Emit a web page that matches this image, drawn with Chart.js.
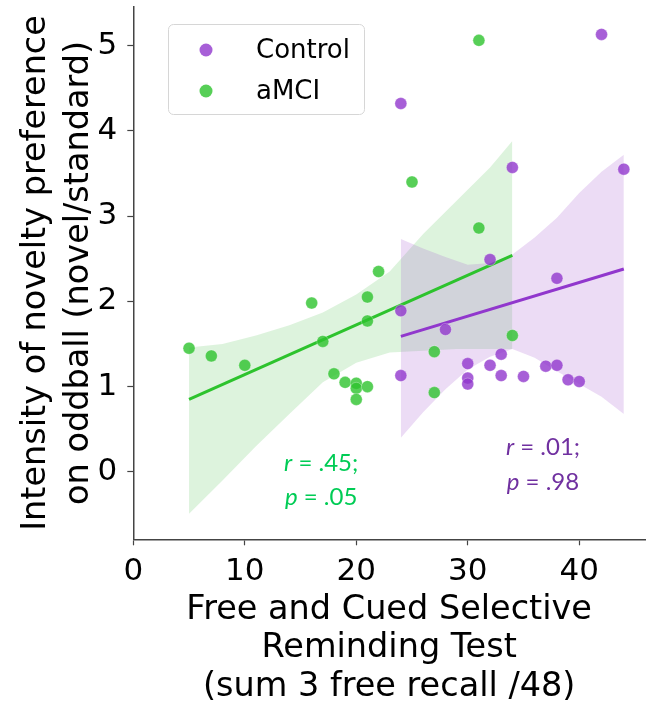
<!DOCTYPE html>
<html>
<head>
<meta charset="utf-8">
<script src="https://cdn.jsdelivr.net/npm/chart.js@4.4.0/dist/chart.umd.min.js"></script>
<style>
  html, body { margin: 0; padding: 0; background: #fff; }
  #wrap { width: 659px; height: 711px; position: relative; }
</style>
</head>
<body>
<div id="wrap"><canvas id="myChart"></canvas></div>
<script>
// Control group (FCSRT free recall vs novelty preference)
const controlX = [24, 24, 24, 28, 30, 30, 30, 32, 32, 33, 33, 34, 35, 37, 38, 38, 39, 40, 42, 44];
const controlY = [4.32, 1.89, 1.13, 1.67, 1.27, 1.10, 1.03, 2.49, 1.25, 1.38, 1.13, 3.57, 1.12, 1.24, 2.27, 1.25, 1.08, 1.06, 5.13, 3.55];

// aMCI group
const amciX = [5, 7, 10, 16, 17, 18, 19, 20, 20, 20, 21, 21, 21, 22, 25, 27, 27, 31, 31, 34];
const amciY = [1.45, 1.36, 1.25, 1.98, 1.53, 1.15, 1.05, 1.04, 0.98, 0.85, 1.00, 2.05, 1.77, 2.35, 3.40, 1.41, 0.93, 5.06, 2.86, 1.60];

// regression lines (ends)
const controlFitX = [24, 44];
const controlFitY = [1.59, 2.38];
const amciFitX = [5, 34];
const amciFitY = [0.85, 2.54];

// confidence bands
const controlBandX = [24, 26, 28, 30, 32, 34, 36, 38, 40, 42, 44];
const controlBandHi = [2.73, 2.62, 2.52, 2.43, 2.45, 2.55, 2.75, 2.98, 3.27, 3.52, 3.72];
const controlBandLo = [0.40, 0.70, 0.97, 1.20, 1.35, 1.44, 1.34, 1.18, 1.03, 0.88, 0.68];
const amciBandX = [5, 8, 11, 14, 17, 20, 23, 26, 29, 32, 34];
const amciBandHi = [1.46, 1.50, 1.60, 1.72, 1.87, 2.08, 2.35, 2.79, 3.18, 3.57, 3.88];
const amciBandLo = [-0.49, -0.10, 0.30, 0.68, 1.05, 1.28, 1.40, 1.42, 1.44, 1.44, 1.44];

// stats
const amciStat = ['.45;', '.05'];
const controlStat = ['.01;', '.98'];

const xTicks = [0, 10, 20, 30, 40];
const yTicks = [0, 1, 2, 3, 4, 5];

const purple = 'rgb(145,55,205)';
const green = 'rgb(45,195,45)';

const toPoints = (xs, ys) => xs.map((x, i) => ({ x: x, y: ys[i] }));

const ctx = document.getElementById('myChart');

// legend drawn inside the plot, matplotlib style
const boxLegend = {
  id: 'boxLegend',
  afterDraw(chart) {
    const c = chart.ctx;
    c.save();
    c.beginPath();
    c.roundRect(168.5, 24.5, 196, 90, 5);
    c.fillStyle = 'rgba(255,255,255,0.8)';
    c.fill();
    c.strokeStyle = '#d6d6d6';
    c.lineWidth = 1;
    c.stroke();
    const items = [chart.data.datasets[0], chart.data.datasets[1]];
    items.forEach((ds, i) => {
      const y = 50 + i * 41;
      c.beginPath();
      c.arc(206, y, 6.5, 0, Math.PI * 2);
      c.fillStyle = ds.backgroundColor;
      c.fill();
      c.fillStyle = '#000';
      c.font = '26px "DejaVu Sans"';
      c.textBaseline = 'middle';
      c.textAlign = 'left';
      c.fillText(ds.label, 256, y + 1);
    });
    c.restore();
  }
};

// r / p annotations
const statText = {
  id: 'statText',
  afterDraw(chart, args, opts) {
    const c = chart.ctx;
    const xs = chart.scales.x, ys = chart.scales.y;
    const fIt = 'italic 24px Lato';
    const fUp = '24px Lato';
    c.save();
    c.textBaseline = 'middle';
    c.textAlign = 'left';
    opts.items.forEach((it) => {
      const cx = xs.getPixelForValue(it.x);
      [['r', it.vals[0]], ['p', it.vals[1]]].forEach((pair, k) => {
        const py = ys.getPixelForValue(it.y[k]);
        const rest = ' = ' + pair[1];
        c.font = fIt;
        const w1 = c.measureText(pair[0]).width;
        c.font = fUp;
        const w2 = c.measureText(rest).width;
        const x0 = cx - (w1 + w2) / 2;
        c.fillStyle = it.color;
        c.font = fIt;
        c.fillText(pair[0], x0, py);
        c.font = fUp;
        c.fillText(rest, x0 + w1, py);
      });
    });
    c.restore();
  }
};

const tickGrid = {
  display: true,
  drawOnChartArea: false,
  drawTicks: true,
  tickLength: 6,
  tickColor: '#444',
  tickWidth: 1.2
};

const myChart = new Chart(ctx, {
  type: 'scatter',
  data: {
    datasets: [
      {
        label: 'Control',
        data: toPoints(controlX, controlY),
        backgroundColor: 'rgba(145,55,205,0.8)',
        borderColor: 'rgba(255,255,255,0.5)',
        borderWidth: 0.6,
        pointRadius: 6,
        order: 0
      },
      {
        label: 'aMCI',
        data: toPoints(amciX, amciY),
        backgroundColor: 'rgba(45,195,45,0.8)',
        borderColor: 'rgba(255,255,255,0.5)',
        borderWidth: 0.6,
        pointRadius: 6,
        order: 0
      },
      {
        type: 'line',
        label: 'Control fit',
        data: toPoints(controlFitX, controlFitY),
        borderColor: purple,
        borderWidth: 3,
        pointRadius: 0,
        fill: false,
        order: 1
      },
      {
        type: 'line',
        label: 'aMCI fit',
        data: toPoints(amciFitX, amciFitY),
        borderColor: green,
        borderWidth: 3,
        pointRadius: 0,
        fill: false,
        order: 1
      },
      {
        type: 'line',
        label: 'Control CI hi',
        data: toPoints(controlBandX, controlBandHi),
        borderWidth: 0,
        borderColor: 'rgba(0,0,0,0)',
        backgroundColor: 'rgba(160,80,205,0.2)',
        pointRadius: 0,
        fill: '+1',
        order: 2
      },
      {
        type: 'line',
        label: 'Control CI lo',
        data: toPoints(controlBandX, controlBandLo),
        borderWidth: 0,
        borderColor: 'rgba(0,0,0,0)',
        pointRadius: 0,
        fill: false,
        order: 2
      },
      {
        type: 'line',
        label: 'aMCI CI hi',
        data: toPoints(amciBandX, amciBandHi),
        borderWidth: 0,
        borderColor: 'rgba(0,0,0,0)',
        backgroundColor: 'rgba(85,195,85,0.2)',
        pointRadius: 0,
        fill: '+1',
        order: 3
      },
      {
        type: 'line',
        label: 'aMCI CI lo',
        data: toPoints(amciBandX, amciBandLo),
        borderWidth: 0,
        borderColor: 'rgba(0,0,0,0)',
        pointRadius: 0,
        fill: false,
        order: 3
      }
    ]
  },
  options: {
    responsive: true,
    maintainAspectRatio: false,
    animation: false,
    layout: { padding: { left: 0, right: 14, top: 5, bottom: 0 } },
    plugins: {
      legend: { display: false },
      tooltip: { enabled: false },
      statText: {
        items: [
          { x: 16.85, y: [0.10, -0.30], vals: amciStat, color: '#00cc55' },
          { x: 36.75, y: [0.29, -0.12], vals: controlStat, color: '#7030a0' }
        ]
      }
    },
    scales: {
      x: {
        type: 'linear',
        min: 0,
        max: 45.9,
        afterFit: (s) => {
          s.height = 171.7;
          s.paddingLeft = 0;
          s.paddingRight = 0;
        },
        afterBuildTicks: (s) => { s.ticks = xTicks.map((v) => ({ value: v })); },
        grid: tickGrid,
        border: { display: true, color: '#444', width: 1.5 },
        ticks: {
          color: '#000',
          padding: 8,
          maxRotation: 0,
          font: { family: 'DejaVu Sans', size: 31 }
        },
        title: {
          display: true,
          text: ['Free and Cued Selective', 'Reminding Test', '(sum 3 free recall /48)'],
          color: '#000',
          font: { family: 'DejaVu Sans', size: 33.5, lineHeight: 1.143 },
          padding: { top: 0, bottom: 5 }
        }
      },
      y: {
        type: 'linear',
        min: -0.79,
        max: 5.456,
        afterFit: (s) => {
          s.width = 133.3;
          s.paddingTop = 0;
          s.paddingBottom = 0;
        },
        afterBuildTicks: (s) => { s.ticks = yTicks.map((v) => ({ value: v })); },
        grid: tickGrid,
        border: { display: true, color: '#444', width: 1.5 },
        ticks: {
          color: '#000',
          padding: 10,
          font: { family: 'DejaVu Sans', size: 31 }
        },
        title: {
          display: true,
          text: ['Intensity of novelty preference', 'on oddball (novel/standard)'],
          color: '#000',
          font: { family: 'DejaVu Sans', size: 33.5, lineHeight: 1.28 },
          padding: { top: 15, bottom: 0 }
        }
      }
    }
  },
  plugins: [boxLegend, statText]
});
</script>
</body>
</html>
